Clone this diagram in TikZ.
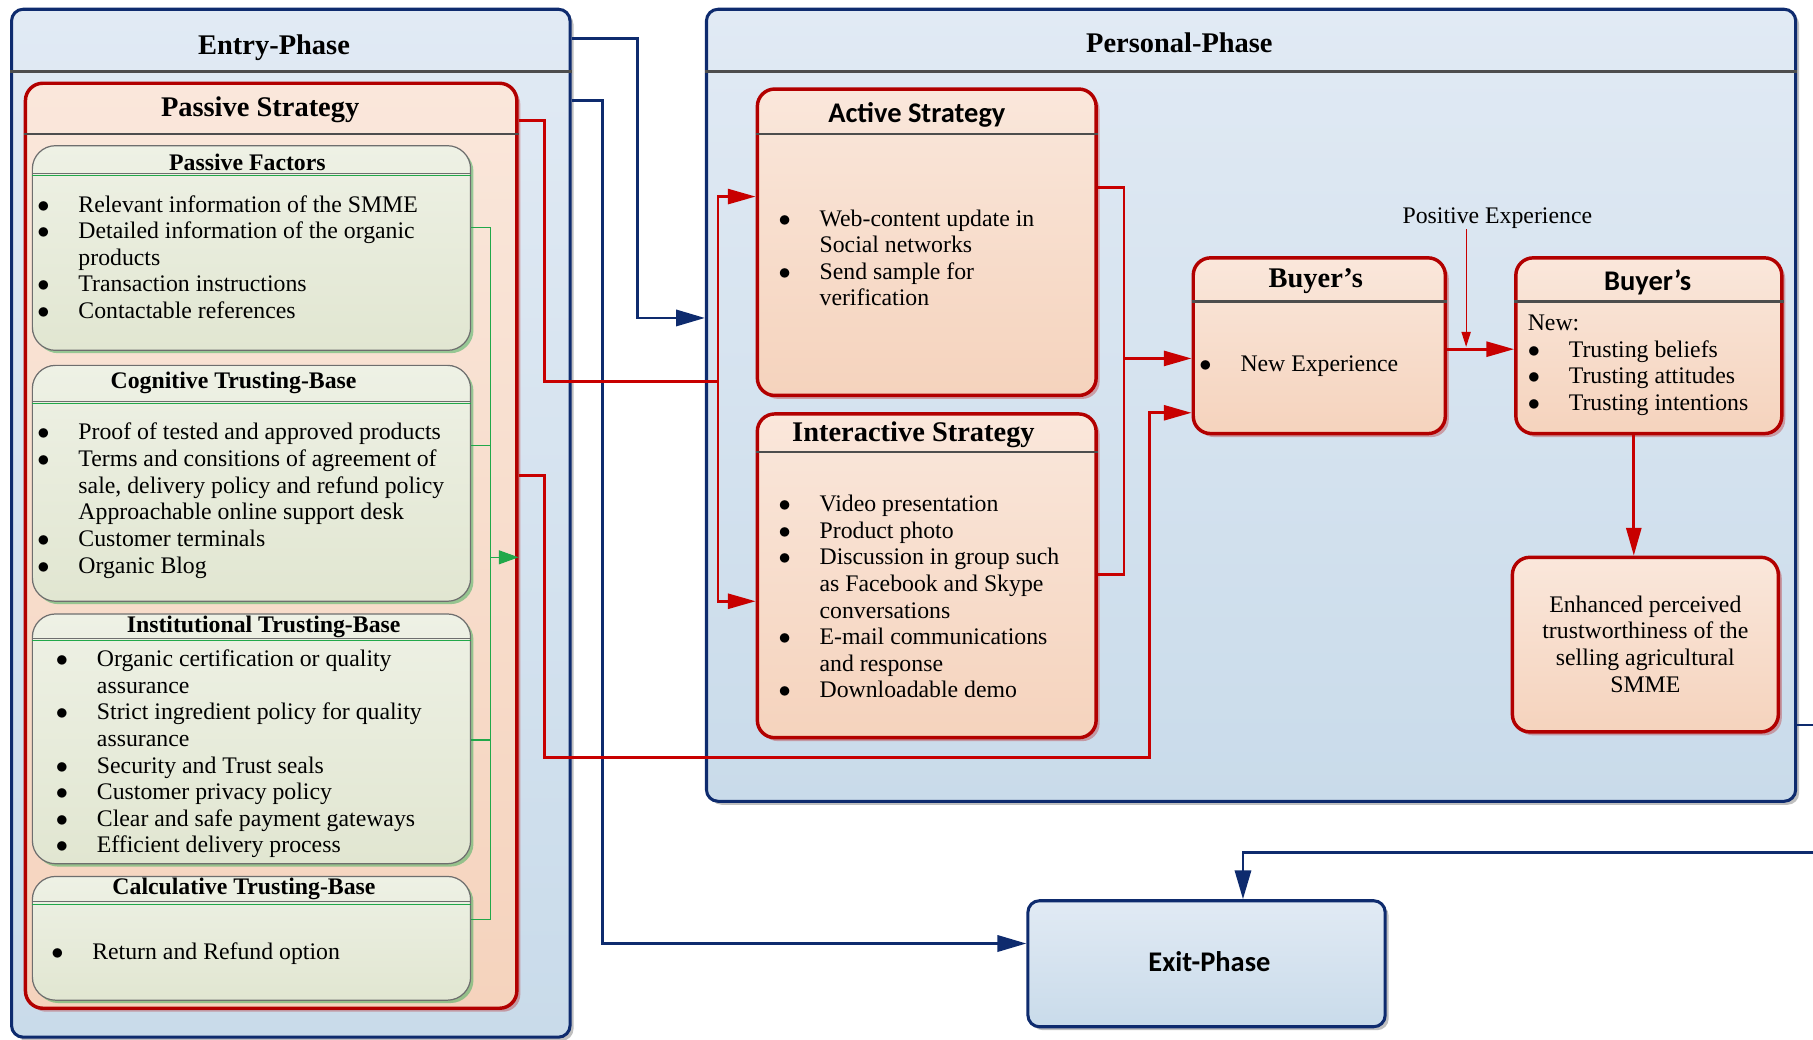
\documentclass[tikz,border=0pt]{standalone}
\usepackage{fontspec}
\setmainfont{Liberation Serif}
\newfontfamily\calibri{Carlito}
\usetikzlibrary{arrows.meta,fit,shadows}

\definecolor{navy}{RGB}{14,43,110}
\definecolor{dred}{RGB}{178,0,0}
\definecolor{lred}{RGB}{200,0,0}
\definecolor{phtop}{RGB}{225,234,244}
\definecolor{phbot}{RGB}{201,219,234}
\definecolor{sttop}{RGB}{250,231,219}
\definecolor{stbot}{RGB}{245,211,189}
\definecolor{bstop}{RGB}{238,241,229}
\definecolor{bsbot}{RGB}{225,230,209}
\definecolor{bgray}{RGB}{110,110,110}
\definecolor{dgray}{RGB}{77,77,77}
\definecolor{lgreen}{RGB}{33,168,74}

\newcommand{\bu}{\strut\makebox[7.1mm][l]{$\bullet$}}
\newcommand{\cn}{\strut\hspace*{7.1mm}}

\tikzset{
  phase/.style={draw=navy, line width=1.5pt, rounded corners=2mm, top color=phtop, bottom color=phbot, inner sep=0pt,
    drop shadow={shadow xshift=0.6mm, shadow yshift=-0.6mm, fill=black, opacity=0.25}},
  strat/.style={draw=dred, line width=1.7pt, rounded corners=3mm, top color=sttop, bottom color=stbot, inner sep=0pt,
    drop shadow={shadow xshift=0.6mm, shadow yshift=-0.6mm, fill=dred, opacity=0.3}},
  tbase/.style={draw=bgray, line width=0.6pt, rounded corners=4mm, top color=bstop, bottom color=bsbot, inner sep=0pt,
    drop shadow={shadow xshift=0.5mm, shadow yshift=-0.5mm, fill=lgreen, opacity=0.45}},
  divider/.style={draw=dgray, line width=1.3pt},
  thindiv/.style={draw=bgray, line width=0.6pt},
  phtitle/.style={font=\fontsize{14}{16}\selectfont\bfseries, inner sep=0pt, yshift=-0.4mm},
  sanstitle/.style={font=\fontsize{14}{16}\selectfont\calibri\bfseries, inner sep=0pt, yshift=-0.4mm},
  btitle/.style={font=\fontsize{11.7}{13}\selectfont\bfseries, inner sep=0pt, yshift=-0.3mm},
  itemtext/.style={font=\fontsize{11.7}{13.1}\selectfont, align=left, anchor=north west, inner sep=0pt, yshift=-0.4mm},
  rline/.style={draw=lred, line width=1.3pt},
  rarrow/.style={rline, -{Triangle[length=4.8mm,width=2.6mm]}},
  bline/.style={draw=navy, line width=1.4pt},
  barrow/.style={bline, -{Triangle[length=5mm,width=2.8mm]}},
  gline/.style={draw=lgreen, line width=0.6pt},
}

\begin{document}
\begin{tikzpicture}[x=0.2mm,y=-0.2mm]
\useasboundingbox (0,0) rectangle (1568,899);

% phases
\node[phase, fit={(10,8) (493,897)}] (entry) {};
\node[phase, fit={(611,8) (1553,693)}] (pers) {};
\node[phase, fit={(889,779) (1198,888)}] (exit) {};
\draw[divider] (entry.west |- 0,62) -- (entry.east |- 0,62);
\draw[divider] (pers.west |- 0,62) -- (pers.east |- 0,62);
\node[phtitle] at (237,39) {Entry-Phase};
\node[phtitle] at (1020,35) {Personal-Phase};
\node[sanstitle] at (1046,830) {Exit-Phase};

% phase links
\draw[barrow] (entry.east |- 0,33) -| (551,275) -- (pers.west |- 0,275);
\draw[barrow] (entry.east |- 0,87) -| (521,816) -- (exit.west |- 0,816);
\draw[barrow] (pers.east |- 0,627) -- (1600,627) |- (1075,737) -- (exit.north -| 1075,0);

% passive strategy
\node[strat, fit={(22,72) (447,872)}] (ps) {};
\draw[divider] (ps.west |- 0,116) -- (ps.east |- 0,116);
\node[phtitle] at (225,93) {Passive Strategy};

\node[tbase, fit={(28,126) (407,303)}] (pf) {};
\draw[thindiv] (pf.west |- 0,150) -- (pf.east |- 0,150);
\draw[gline] (pf.west |- 0,152) -- (pf.east |- 0,152);
\node[btitle] at (214,139) {Passive Factors};
\node[itemtext] at (32,165) {\bu Relevant information of the SMME\\
  \bu Detailed information of the organic\\
  \cn products\\
  \bu Transaction instructions\\
  \bu Contactable references};

\node[tbase, fit={(28,316) (407,520)}] (cog) {};
\draw[thindiv] (cog.west |- 0,347) -- (cog.east |- 0,347);
\draw[gline] (cog.west |- 0,349) -- (cog.east |- 0,349);
\node[btitle] at (202,330) {Cognitive Trusting-Base};
\node[itemtext] at (32,362) {\bu Proof of tested and approved products\\
  \bu Terms and consitions of agreement of\\
  \cn sale, delivery policy and refund policy\\
  \cn Approachable online support desk\\
  \bu Customer terminals\\
  \bu Organic Blog};

\node[tbase, fit={(28,531) (407,747)}] (inst) {};
\draw[thindiv] (inst.west |- 0,552) -- (inst.east |- 0,552);
\draw[gline] (inst.west |- 0,554) -- (inst.east |- 0,554);
\node[btitle] at (228,541) {Institutional Trusting-Base};
\node[itemtext] at (48,558) {\bu Organic certification or quality\\
  \cn assurance\\
  \bu Strict ingredient policy for quality\\
  \cn assurance\\
  \bu Security and Trust seals\\
  \bu Customer privacy policy\\
  \bu Clear and safe payment gateways\\
  \bu Efficient delivery process};

\node[tbase, fit={(28,758) (407,865)}] (calc) {};
\draw[thindiv] (calc.west |- 0,780) -- (calc.east |- 0,780);
\draw[gline] (calc.west |- 0,782) -- (calc.east |- 0,782);
\node[btitle] at (211,767) {Calculative Trusting-Base};
\node[itemtext] at (44,811) {\bu Return and Refund option};

% trusting bases into passive strategy
\coordinate (gbus) at (424,482);
\draw[gline] (pf.east |- 0,197) -| (gbus);
\draw[gline] (cog.east |- 0,385) -| (gbus);
\draw[gline] (inst.east |- 0,640) -| (gbus);
\draw[gline] (calc.east |- 0,795) -| (gbus);
\draw[gline, -{Triangle[length=3.4mm,width=2.4mm]}] (gbus) -- (ps.east |- gbus);

% personal phase boxes
\node[strat, fit={(655,77) (948,342)}] (act) {};
\draw[divider] (act.west |- 0,116) -- (act.east |- 0,116);
\node[sanstitle] at (793,97) {Active Strategy};
\node[itemtext] at (673,177) {\bu Web-content update in\\
  \cn Social networks\\
  \bu Send sample for\\
  \cn verification};

\node[strat, fit={(655,358) (948,638)}] (inter) {};
\draw[divider] (inter.west |- 0,391) -- (inter.east |- 0,391);
\node[phtitle] at (790,374) {Interactive Strategy};
\node[itemtext] at (673,424) {\bu Video presentation\\
  \bu Product photo\\
  \bu Discussion in group such\\
  \cn as Facebook and Skype\\
  \cn conversations\\
  \bu E-mail communications\\
  \cn and response\\
  \bu Downloadable demo};

\node[strat, fit={(1032,223) (1250,375)}] (buy1) {};
\draw[divider] (buy1.west |- 0,261) -- (buy1.east |- 0,261);
\node[phtitle] at (1138,241) {Buyer’s};
\node[itemtext] at (1037,303) {\bu New Experience};

\node[strat, fit={(1311,223) (1541,375)}] (buy2) {};
\draw[divider] (buy2.west |- 0,261) -- (buy2.east |- 0,261);
\node[sanstitle] at (1425,242) {Buyer’s};
\node[itemtext] at (1321,270) {New:\\
  \bu Trusting beliefs\\
  \bu Trusting attitudes\\
  \bu Trusting intentions};

\node[strat, fit={(1308,482) (1538,633)}] (enh) {};
\node[font=\fontsize{11.7}{13.1}\selectfont, align=center, inner sep=0pt] (enhtext) at (1423,557)
  {Enhanced perceived\\trustworthiness of the\\selling agricultural\\SMME};

\node[font=\fontsize{11.7}{13.1}\selectfont, inner sep=0pt] (pos) at (1295,189) {Positive Experience};

% red links
\coordinate (rbus) at (621,330);
\draw[rline] (ps.east |- 0,104) -| (471,330) -- (rbus);
\draw[rarrow] (rbus) |- (act.west |- 0,170);
\draw[rarrow] (rbus) |- (inter.west |- 0,520);
\draw[rarrow] (ps.east |- 0,411) -| (471,655) -| (994,357) -- (buy1.west |- 0,357);
\coordinate (rbus2) at (972,310);
\draw[rline] (act.east |- 0,162) -| (rbus2);
\draw[rline] (inter.east |- 0,497) -| (rbus2);
\draw[rarrow] (rbus2) -- (buy1.west |- rbus2);
\draw[rarrow] (buy1.east |- 0,302) -- (buy2.west |- 0,302);
\coordinate (posend) at (1268,300);
\draw[draw=lred, line width=0.6pt, -{Triangle[length=2.6mm,width=1.6mm]}] (pos.south -| posend) -- (posend);
\draw[rarrow] (buy2.south -| 1413,0) -- (enh.north -| 1413,0);

\end{tikzpicture}
\end{document}
